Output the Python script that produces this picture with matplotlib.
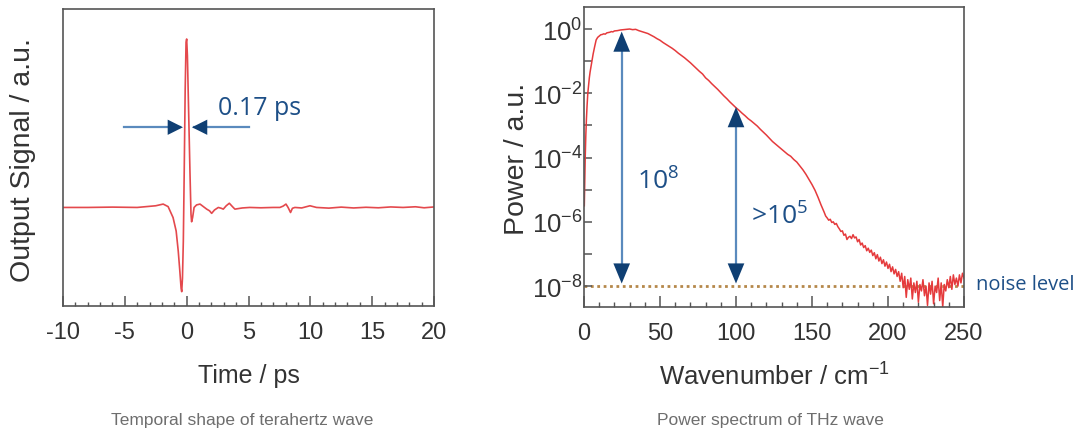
import numpy as np
import matplotlib
matplotlib.use("Agg")
import matplotlib.pyplot as plt
from matplotlib.ticker import FixedLocator, FixedFormatter, MultipleLocator

plt.rcParams['font.family'] = ['Liberation Sans', 'DejaVu Sans']
plt.rcParams['mathtext.default'] = 'regular'
plt.rcParams['axes.unicode_minus'] = False

# temporal waveform (ps, a.u. with peak = 1)
time_ps = [-10, -8, -6, -4, -2.5, -1.9, -1.5, -1.1, -0.85, -0.68, -0.55, -0.45, -0.40,
           -0.34, -0.27, -0.20, -0.12, -0.05, 0.0, 0.06, 0.15, 0.27, 0.35, 0.40, 0.48,
           0.6, 0.8, 1.08, 1.35, 1.62, 1.85, 2.02, 2.25, 2.56, 2.8, 2.96, 3.2, 3.45,
           3.7, 3.9, 4.5, 5.1, 6, 7, 7.54, 7.8, 8.03, 8.2, 8.4, 8.55, 8.75, 9.3, 9.97,
           10.5, 11.5, 12.5, 13.5, 14.5, 15.5, 16.5, 17.5, 18.5, 19.2, 20]
signal = [0, 0, 0.002, 0, 0.01, 0.02, 0.005, -0.06, -0.14, -0.26, -0.38, -0.48, -0.50,
          -0.42, -0.20, 0.20, 0.70, 0.98, 1.0, 0.90, 0.60, 0.20, -0.04, -0.085, -0.06,
          0.0, 0.015, 0.02, 0.005, -0.01, -0.02, -0.035, -0.015, 0.0, -0.005, -0.01, 0.01, 0.025,
          0.005, -0.01, -0.003, 0.0, -0.002, 0.0, 0.0, 0.008, 0.02, 0.0, -0.03, -0.005, 0.0, -0.003, 0.01,
          0.0, -0.004, 0.002, -0.003, 0.001, -0.002, 0.003, 0.0, 0.004, -0.002, 0.003]

# power spectrum, log10 of power vs wavenumber (cm^-1)
wavenumber = [0.2, 0.5, 0.8, 1.2, 1.6, 2.0, 2.5, 3.0, 3.5, 4, 5, 6, 7, 8, 9, 10, 11, 12,
              13, 14, 15, 16, 17, 18, 19, 20, 22, 24, 26, 28, 30, 32, 34, 36, 38, 40,
              42, 44, 46, 48, 50, 52, 54, 56, 58, 60, 62, 64, 66, 68, 70, 72, 74, 76,
              78, 80, 82, 84, 86, 88, 90, 92, 94, 96, 98, 100, 102, 104, 106, 108, 110,
              112, 114, 116, 118, 120, 122, 124, 126, 128, 130, 132, 134, 136, 138, 140,
              142, 144, 146, 148, 150, 152, 154, 156, 158, 159,
              160, 161, 162, 163, 164, 165, 166, 167, 168, 169, 170, 171, 172, 173, 174,
              175, 176, 177, 178, 179, 180, 181, 182, 183, 184, 185, 186, 187, 188, 189,
              190, 191, 192, 193, 194, 195, 196, 197, 198, 199, 200, 201, 202, 203, 204,
              205, 206, 207, 208, 209, 210, 211, 212, 213, 214, 215, 216, 217, 218, 219,
              220, 221, 222, 223, 224, 225, 226, 227, 228, 229, 230, 231, 232, 233, 234,
              235, 236, 237, 238, 239, 240, 241, 242, 243, 244, 245, 246, 247, 248, 249, 250]
log_power = [-5.5, -4.7, -4.0, -3.3, -2.8, -2.4, -2.0, -1.75, -1.52, -1.34, -1.05, -0.78, -0.55,
             -0.34, -0.26, -0.22, -0.18, -0.17, -0.15, -0.16, -0.12, -0.11, -0.10, -0.08, -0.09,
             -0.06, -0.05, -0.03, -0.02, -0.01, 0.0, -0.02, -0.01, -0.05, -0.08, -0.11,
             -0.14, -0.19, -0.24, -0.30, -0.35, -0.42, -0.48, -0.54, -0.60, -0.67, -0.75, -0.82,
             -0.89, -0.97, -1.05, -1.14, -1.23, -1.32, -1.40, -1.52, -1.60, -1.70, -1.79, -1.88,
             -1.98, -2.08, -2.17, -2.27, -2.36, -2.45, -2.53, -2.62, -2.70, -2.79, -2.86,
             -2.94, -3.02, -3.12, -3.21, -3.30, -3.40, -3.50, -3.58, -3.66, -3.74, -3.82, -3.90,
             -3.96, -4.06, -4.14, -4.26, -4.38, -4.52, -4.68, -4.84, -5.02, -5.24, -5.48, -5.70, -5.82,
             -5.88, -5.95, -5.92, -6.02, -6.00, -6.08, -6.05, -6.15, -6.22, -6.30, -6.28, -6.42,
             -6.38, -6.55, -6.48, -6.45, -6.52, -6.40, -6.50, -6.47, -6.62, -6.55, -6.72, -6.66,
             -6.80, -6.74, -6.90, -6.82, -6.95, -6.88, -7.05, -6.96, -7.15, -7.02, -7.22, -7.10,
             -7.30, -7.18, -7.38, -7.25, -7.45, -7.32, -7.55, -7.40, -7.62, -7.48, -7.70, -7.55,
             -7.85, -7.60, -8.05, -7.70, -8.35, -7.80, -8.10, -7.75, -8.40, -7.90, -8.20, -7.85,
             -8.50, -7.95, -8.15, -7.80, -8.30, -8.00, -8.60, -7.90, -8.25, -7.85, -8.55, -8.00,
             -8.20, -7.75, -8.45, -7.90, -8.65, -7.95, -8.15, -7.80, -8.05, -7.70, -8.10, -7.65,
             -7.95, -7.75, -8.00, -7.65, -7.90, -7.60, -7.75]
noise_level = 1e-8

spine_col = '#555555'
text_col = '#333333'
navy = '#0f3f73'
shaft = '#5a8abd'
note_col = '#1d4f87'

W, H = 1080, 431
fig = plt.figure(figsize=(10.8, 4.31), dpi=100)

def fx(px):
    return px / W

def fy(py):
    return 1 - py / H

# ---- left: temporal shape
ax1 = fig.add_axes([fx(63), fy(307), fx(434) - fx(63), fy(10) - fy(307)])
ax1.plot(time_ps, signal, color='#e4494d', lw=1.2)
ax1.set_xlim(-10, 20)
ax1.set_ylim(-0.585, 1.178)
ax1.set_yticks([])
ax1.xaxis.set_major_locator(MultipleLocator(5))
ax1.xaxis.set_minor_locator(MultipleLocator(1))
ax1.tick_params(axis='x', which='major', direction='in', length=7, width=1.1,
                color=spine_col, labelsize=17, labelcolor=text_col, pad=11)
ax1.tick_params(axis='x', which='minor', direction='in', length=3, width=1,
                color=spine_col)
for s in ax1.spines.values():
    s.set_color(spine_col)
    s.set_linewidth(1.2)

# 0.17 ps arrows
ax1.plot([-5.07, -0.5], [0.476, 0.476], color=shaft, lw=1.6, zorder=3)
ax1.plot([0.6, 5.04], [0.476, 0.476], color=shaft, lw=1.6, zorder=3)
hstyle = '-|>,head_length=1.1,head_width=0.55'
ax1.annotate('', xy=(-0.30, 0.476), xytext=(-3.0, 0.476),
             arrowprops=dict(arrowstyle=hstyle, color=navy, lw=0, shrinkA=0, shrinkB=0,
                             mutation_scale=10), zorder=4)
ax1.annotate('', xy=(0.43, 0.476), xytext=(3.0, 0.476),
             arrowprops=dict(arrowstyle=hstyle, color=navy, lw=0, shrinkA=0, shrinkB=0,
                             mutation_scale=10), zorder=4)
ax1.text(2.57, 0.556, '0.17 ps', family='Open Sans', fontsize=18, color=note_col,
         ha='left', va='baseline')

# ---- right: power spectrum
ax2 = fig.add_axes([fx(584), fy(308), fx(964) - fx(584), fy(8) - fy(308)])
power = 10 ** np.array(log_power)
ax2.plot(wavenumber, power, color='#e53a3c', lw=1.1, zorder=2)
ax2.set_yscale('log')
ax2.set_xlim(0, 250)
ax2.set_ylim(10 ** -8.65, 10 ** 0.685)
ax2.plot([0, 250], [noise_level, noise_level], color='#b5884a', lw=2,
         linestyle=(0, (1, 1.3)), zorder=1)

decades = [10.0 ** k for k in range(-8, 1)]
dec_labels = ['$10^{%d}$' % k if k % 2 == 0 else '' for k in range(-8, 1)]
ax2.yaxis.set_major_locator(FixedLocator(decades))
ax2.yaxis.set_major_formatter(FixedFormatter(dec_labels))
ax2.yaxis.set_minor_locator(FixedLocator([]))
ax2.xaxis.set_major_locator(MultipleLocator(50))
ax2.xaxis.set_minor_locator(MultipleLocator(10))
ax2.tick_params(axis='x', which='major', direction='in', length=8, width=1.1,
                color=spine_col, labelsize=17, labelcolor=text_col, pad=11)
ax2.tick_params(axis='x', which='minor', direction='in', length=3.5, width=1,
                color=spine_col)
ax2.tick_params(axis='y', which='major', direction='in', length=6, width=1.1,
                color=spine_col, labelsize=18.5, labelcolor=text_col, pad=1)
for s in ax2.spines.values():
    s.set_color(spine_col)
    s.set_linewidth(1.2)

vstyle = '-|>,head_length=1.45,head_width=0.6'
for wn, top in [(24.8, -0.08), (100, -2.43)]:
    ax2.plot([wn, wn], [10 ** -7.6, 10 ** (top - 0.4)], color=shaft, lw=1.6, zorder=3)
    ax2.annotate('', xy=(wn, 10 ** top), xytext=(wn, 10 ** -4),
                 arrowprops=dict(arrowstyle=vstyle, color=navy, lw=0, shrinkA=0, shrinkB=0,
                                 mutation_scale=10), zorder=4)
    ax2.annotate('', xy=(wn, 10 ** -7.92), xytext=(wn, 10 ** -5),
                 arrowprops=dict(arrowstyle=vstyle, color=navy, lw=0, shrinkA=0, shrinkB=0,
                                 mutation_scale=10), zorder=4)

ax2.text(34.7, 10 ** -4.98, '$10^{8}$', family='Open Sans', fontsize=19, color=note_col,
         ha='left', va='baseline')
ax2.text(110, 10 ** -6.07, '>$10^{5}$', family='Open Sans', fontsize=19, color=note_col,
         ha='left', va='baseline')
ax2.text(1.032, 10 ** -7.93, 'noise level', transform=ax2.get_yaxis_transform(),
         family='Open Sans', fontsize=14.5, color=note_col, ha='left', va='center')

# axis labels and captions
fig.text(fx(23), fy(159.5), 'Output Signal / a.u.', rotation=90, ha='center', va='center',
         fontsize=20.5, color=text_col)
fig.text(fx(248.5), fy(383), 'Time / ps', ha='center', va='baseline', fontsize=18,
         color=text_col)
fig.text(fx(516.5), fy(159), 'Power / a.u.', rotation=90, ha='center', va='center',
         fontsize=20.5, color=text_col)
fig.text(fx(774), fy(386), 'Wavenumber / cm$^{-1}$', ha='center', va='baseline',
         fontsize=18.5, color=text_col)
fig.text(fx(242), fy(425), 'Temporal shape of terahertz wave', ha='center', va='baseline',
         fontsize=12.5, color='#6e6e6e')
fig.text(fx(770), fy(425), 'Power spectrum of THz wave', ha='center', va='baseline',
         fontsize=12.5, color='#6e6e6e')

fig.savefig('out.png', dpi=100)
